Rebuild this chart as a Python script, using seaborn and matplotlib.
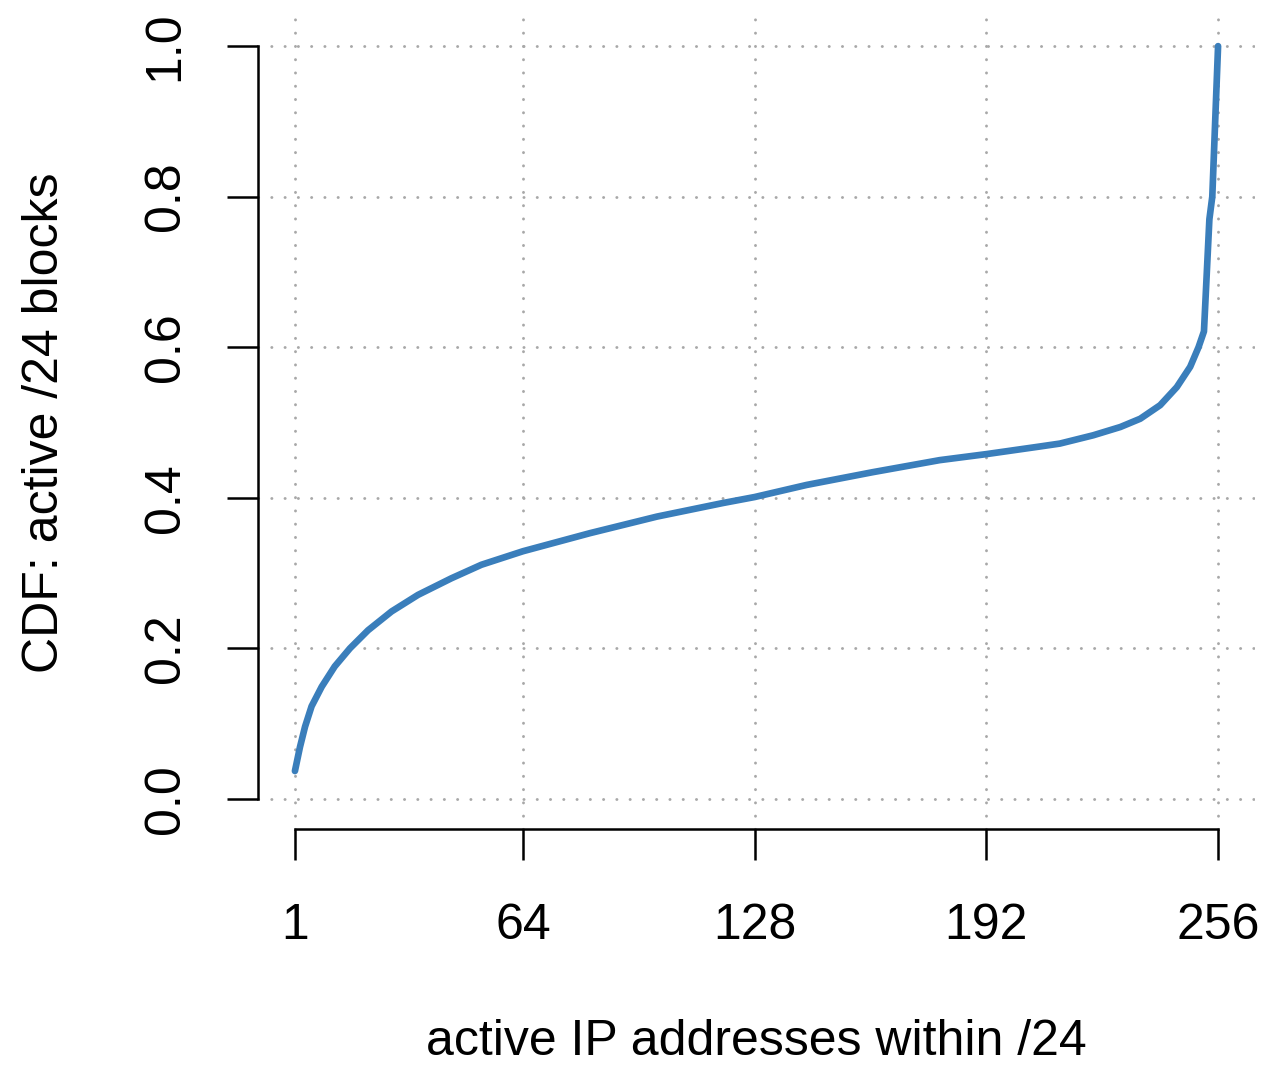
import matplotlib
matplotlib.use("Agg")
import matplotlib.pyplot as plt
import seaborn as sns
import pandas as pd

# CDF of /24 blocks by number of active addresses
active_ips = [1, 2.4, 3.8, 5.6, 8.4, 12.0, 16.2, 21.2, 27.7, 35.0, 44.2, 52.5,
              64, 82.5, 101, 119.2, 128, 142.3, 160.6, 179.1, 192, 206.6,
              212.3, 221.5, 229, 234.5, 240, 244.6, 248.3, 250.6, 252.1,
              253.6, 254.4, 256]
cdf_blocks = [0.037, 0.069, 0.096, 0.123, 0.149, 0.176, 0.200, 0.224, 0.249, 0.271,
              0.293, 0.311, 0.329, 0.353, 0.375, 0.393, 0.401, 0.417, 0.434, 0.450,
              0.458, 0.468, 0.472, 0.483, 0.494, 0.505, 0.523, 0.547, 0.574, 0.600,
              0.621, 0.770, 0.800, 1.0]

x_ticks = [1, 64, 128, 192, 256]
y_ticks = [0.0, 0.2, 0.4, 0.6, 0.8, 1.0]
y_tick_labels = ["0.0", "0.2", "0.4", "0.6", "0.8", "1.0"]

sns.set_style("white")
plt.rcParams["font.family"] = ["Liberation Sans", "DejaVu Sans"]
plt.rcParams["lines.dash_capstyle"] = "round"
plt.rcParams["text.color"] = "black"
plt.rcParams["axes.labelcolor"] = "black"

df = pd.DataFrame({"ips": active_ips, "cdf": cdf_blocks})

W, H = 1266, 1066
fig = plt.figure(figsize=(W / 100, H / 100), dpi=100)
ax = fig.add_axes([258 / W, 1 - 829 / H, (1255 - 258) / W, (829 - 16) / H])

ax.set_xlim(-9.2, 266.2)
ax.set_ylim(-0.04, 1.04)

# dotted grid over the full plot region
grid_kw = dict(color="#a8a8a8", lw=2.1, ls=(0, (0.05, 4.5)), zorder=1)
for v in x_ticks:
    ax.axvline(v, **grid_kw)
for v in y_ticks:
    ax.axhline(v, **grid_kw)

sns.lineplot(data=df, x="ips", y="cdf", ax=ax, color="#3a7ebb", linewidth=4.8,
             solid_capstyle="round", solid_joinstyle="round", zorder=3)

ax.set_xticks(x_ticks)
ax.set_xticklabels([str(v) for v in x_ticks])
ax.set_yticks(y_ticks)
ax.set_yticklabels(y_tick_labels)

for side in ("top", "right"):
    ax.spines[side].set_visible(False)
for side in ("left", "bottom"):
    ax.spines[side].set_linewidth(1.8)
    ax.spines[side].set_color("black")
ax.spines["left"].set_bounds(0, 1)
ax.spines["bottom"].set_bounds(1, 256)

ax.tick_params(axis="both", direction="out", length=22, width=1.8, color="black",
               labelsize=36, labelcolor="black", bottom=True, left=True)
ax.tick_params(axis="x", pad=31)
ax.tick_params(axis="y", pad=28, labelrotation=90)
for lab in ax.get_yticklabels():
    lab.set_va("center")

ax.set_xlabel("active IP addresses within /24", fontsize=36, color="black")
ax.set_ylabel("CDF: active /24 blocks", fontsize=36, color="black")
ax.xaxis.set_label_coords(0.5, (829 - 1055) / 813)
ax.yaxis.set_label_coords((45 - 258) / 997, 0.5)
ax.xaxis.label.set_va("baseline")
ax.yaxis.label.set_va("center")

fig.savefig("out.png", dpi=100)
